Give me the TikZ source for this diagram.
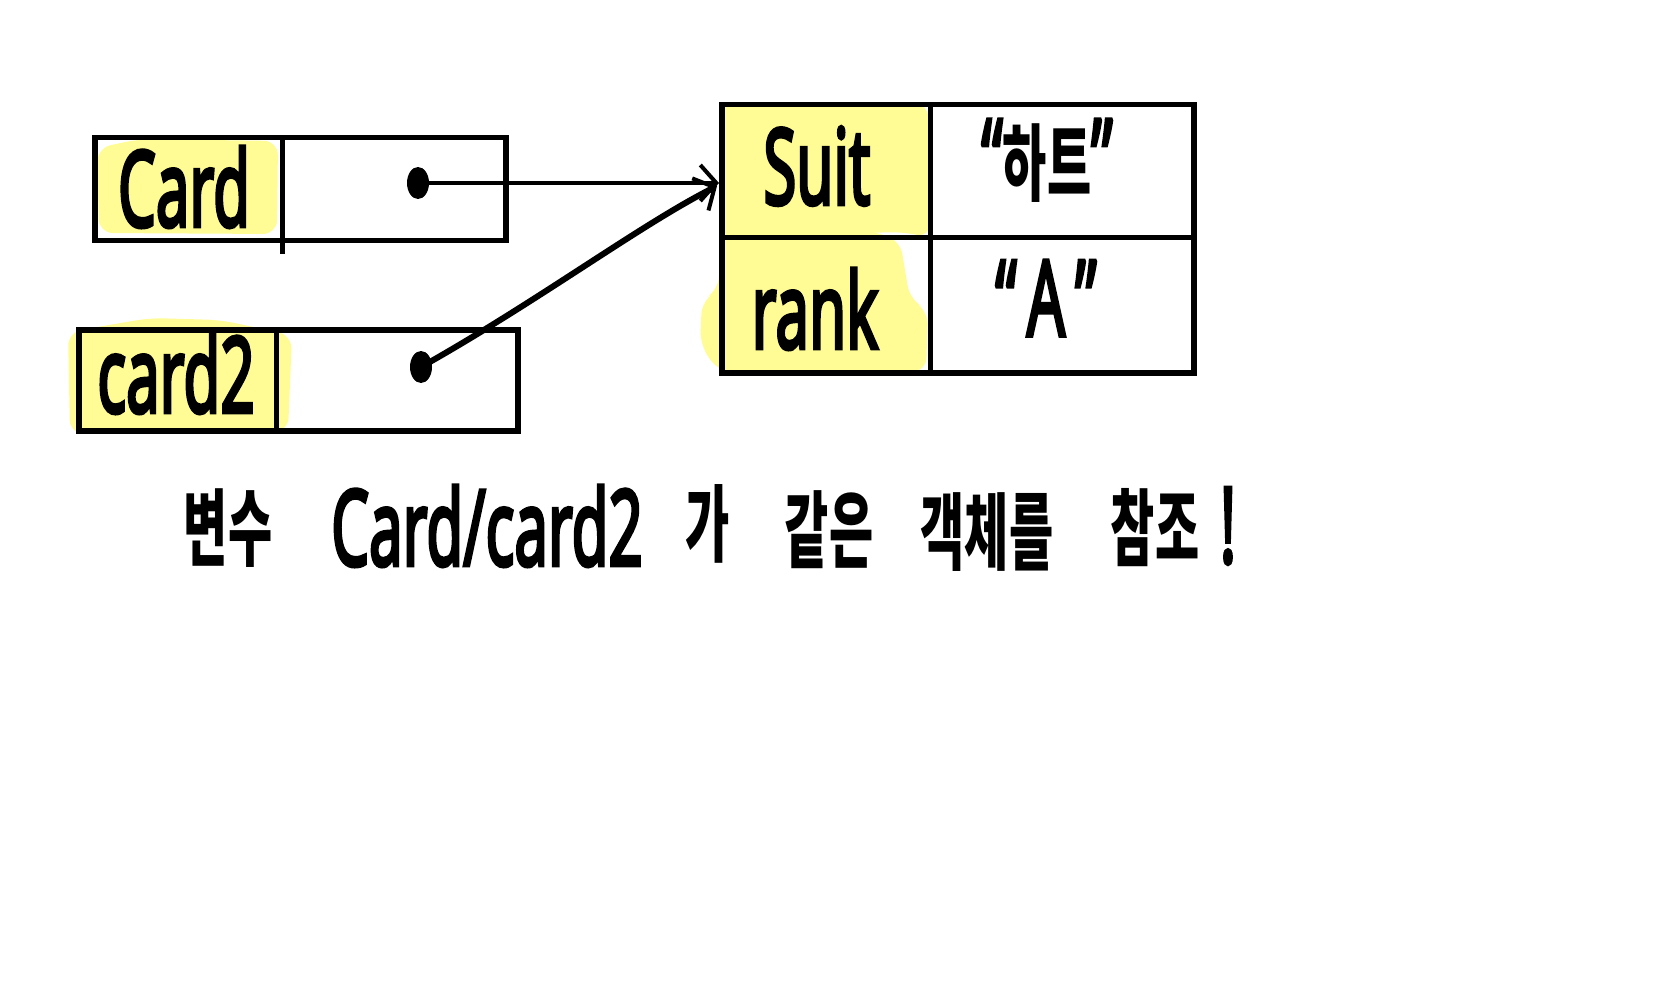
\documentclass[tikz,border=0pt]{standalone}
\usepackage{fontspec}
\setmainfont{Noto Sans}[FakeBold=4]
\newfontfamily\kr{Noto Sans CJK KR}
\usetikzlibrary{arrows.meta,shapes.geometric}
\definecolor{hl}{RGB}{255,252,150}
\newcommand\tall[1]{\scalebox{1}[1.75]{#1}}
\begin{document}
\begin{tikzpicture}[x=1pt,y=-1pt,
  cell/.style={draw, line width=5.5pt, inner sep=0, anchor=north west},
  sep/.style={line width=5pt},
  lbl/.style={inner sep=0, font=\fontsize{60}{60}\selectfont},
  klbl/.style={inner sep=0, font=\kr\fontsize{48}{48}\selectfont\bfseries},
  hlight/.style={fill=hl, rounded corners=14pt},
  dot/.style={ellipse, fill=black, inner sep=0, minimum width=22pt, minimum height=32pt},
  ref/.style={line width=4pt, -{Straight Barb[length=16pt,width=36pt,line width=4pt]}},
]
\useasboundingbox[fill=white] (0,0) rectangle (1659,1000);
% highlights
\fill[hlight] (97,148) -- (140,139) -- (278,141) -- (277,234) -- (99,233) -- cycle;
\fill[hlight] (68,332) -- (150,318) -- (220,320) -- (292,335) -- (288,432) -- (70,434) -- cycle;
\fill[hlight] (719,103) -- (928,103) -- (930,238) -- (905,232) -- (719,236) -- cycle;
\fill[hlight] (719,232) -- (860,228) -- (900,240) -- (910,300) -- (928,310) -- (926,372) -- (719,372) -- (700,345) -- (702,300) -- (719,290) -- cycle;
% boxes
\node[cell, minimum width=411pt, minimum height=103pt] (card) at (92,135) {};
\draw[sep] (282,138) -- (282,254);
\node[cell, minimum width=439pt, minimum height=101pt] (card2) at (76,327) {};
\draw[sep] (276,331) -- (276,434);
\node[cell, minimum width=472pt, minimum height=268pt] (obj) at (719,102) {};
\draw[sep] (930,102) -- (930,372);
\draw[sep] (719,238) -- (1191,238);
% labels
\node[lbl] (lcard) at (184,187) {\tall{Card}};
\node[lbl] (lcard2) at (176,373) {\tall{card2}};
\node[lbl] (lsuit) at (817,166) {\tall{Suit}};
\node[lbl] (lrank) at (815,309) {\tall{rank}};
\node[lbl] (vsuit) at (1047,161) {\tall{“{\kr\fontsize{48}{48}\selectfont\bfseries 하트}”}};
\node[lbl] (vrank) at (1046,298) {\tall{“\,A\,”}};
% references
\node[dot] (d1) at (418,183) {};
\node[dot] (d2) at (421,367) {};
\coordinate (t1) at (719,183);
\coordinate (t2) at (717,186);
\draw[ref] (d1.center) -- (t1);
\draw[ref, line width=6pt] (d2.center) .. controls (540,300) and (640,225) .. (t2);
% caption
\node[klbl] (c1) at (228,528) {\tall{변수}};
\node[lbl] (c2) at (487,526) {\tall{Card/card2}};
\node[klbl] (c3) at (708,524) {\tall{가}};
\node[klbl] (c4) at (829,530) {\tall{같은}};
\node[klbl] (c5) at (987,532) {\tall{객체를}};
\node[klbl] (c6) at (1155,528) {\tall{참조}};
\node[lbl] (c7) at (1228,526) {\tall{!}};
\end{tikzpicture}
\end{document}
